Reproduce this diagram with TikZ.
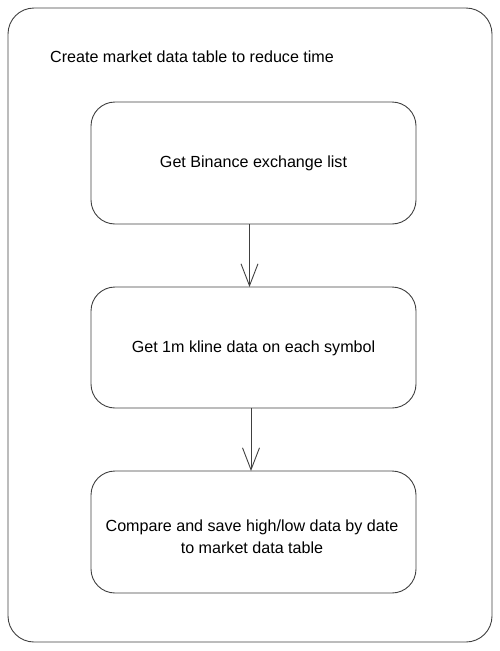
\documentclass[tikz,border=0pt]{standalone}
\usepackage{fontspec}
\setmainfont{Liberation Sans}
\usetikzlibrary{arrows.meta}
\begin{document}
\begin{tikzpicture}[x=1pt,y=-1pt,
  linecol/.style={draw=black!75, line width=0.9pt},
  stepbox/.style={linecol, rounded corners=24pt},
  lbl/.style={font=\fontsize{16.1}{22}\selectfont, inner sep=0pt},
  conn/.style={linecol, -{Straight Barb[length=22pt,width=17pt,line width=0.9pt]}}]
\useasboundingbox (0,0) rectangle (500,651);
\draw[linecol, rounded corners=26pt] (8,8) rectangle (492,642);
\node[lbl, anchor=base west] (title) at (50,62.5) {Create market data table to reduce time};
\draw[stepbox] (91,102) rectangle (416,224);
\node[lbl] (b1) at (253.5,163) {Get Binance exchange list};
\draw[stepbox] (91,287) rectangle (416,408);
\node[lbl] (b2) at (253.5,348) {Get 1m kline data on each symbol};
\draw[stepbox] (91,471) rectangle (416,593);
\node[lbl, align=center] (b3) at (252,537) {Compare and save high/low data by date\\to market data table};
\coordinate (a1s) at (249.5,224);
\coordinate (a1e) at (249.5,287);
\coordinate (a2s) at (251,408);
\coordinate (a2e) at (251,471);
\draw[conn] (a1s) -- (a1e);
\draw[conn] (a2s) -- (a2e);
\end{tikzpicture}
\end{document}
